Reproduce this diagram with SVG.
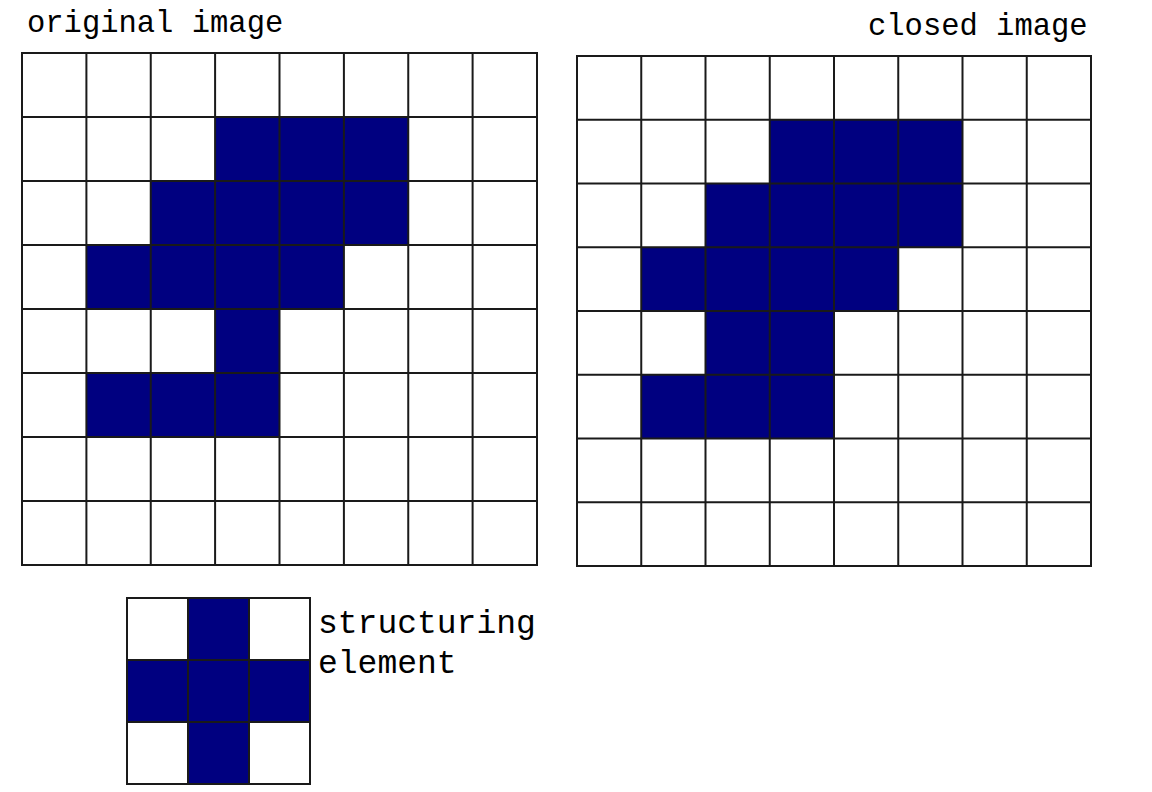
<svg xmlns="http://www.w3.org/2000/svg" width="1152" height="792" viewBox="0 0 1152 792">
<style>
.bg{fill:#ffffff}
.on{fill:#000080}
.ln{stroke:#1a1a1a;stroke-width:2;fill:none}
.lbl{font-family:"Liberation Mono","Courier New",monospace;fill:#000000}
</style>
<rect class="bg" x="0" y="0" width="1152" height="792"/>
<g id="original">
<text class="lbl" x="27" y="32" font-size="30.5">original image</text>
<g transform="translate(22,53)">
<g class="on">
<rect x="193.1" y="64" width="193.1" height="64"/>
<rect x="128.75" y="128" width="257.5" height="64"/>
<rect x="64.4" y="192" width="257.5" height="64"/>
<rect x="193.1" y="256" width="64.4" height="64"/>
<rect x="64.4" y="320" width="193.1" height="64"/>
</g>
<path class="ln" d="M0 0H515V512H0Z M64.4 0V512 M128.75 0V512 M193.1 0V512 M257.5 0V512 M321.9 0V512 M386.25 0V512 M450.6 0V512 M0 64H515 M0 128H515 M0 192H515 M0 256H515 M0 320H515 M0 384H515 M0 448H515"/>
</g>
</g>
<g id="closed">
<text class="lbl" x="868" y="35" font-size="30.5">closed image</text>
<g transform="translate(577,56)">
<g class="on">
<rect x="192.75" y="63.75" width="192.75" height="63.75"/>
<rect x="128.5" y="127.5" width="257" height="63.75"/>
<rect x="64.25" y="191.25" width="257" height="63.75"/>
<rect x="128.5" y="255" width="128.5" height="63.75"/>
<rect x="64.25" y="318.75" width="192.75" height="63.75"/>
</g>
<path class="ln" d="M0 0H514V510H0Z M64.25 0V510 M128.5 0V510 M192.75 0V510 M257 0V510 M321.25 0V510 M385.5 0V510 M449.75 0V510 M0 63.75H514 M0 127.5H514 M0 191.25H514 M0 255H514 M0 318.75H514 M0 382.5H514 M0 446.25H514"/>
</g>
</g>
<g id="structuring-element">
<g transform="translate(127,598)">
<g class="on">
<rect x="61" y="0" width="61" height="186"/>
<rect x="0" y="62" width="183" height="62"/>
</g>
<path class="ln" d="M0 0H183V186H0Z M61 0V186 M122 0V186 M0 62H183 M0 124H183"/>
</g>
<text class="lbl" x="318" y="633" font-size="33">structuring</text>
<text class="lbl" x="318" y="673" font-size="33">element</text>
</g>
<g id="connectors"/>
</svg>
